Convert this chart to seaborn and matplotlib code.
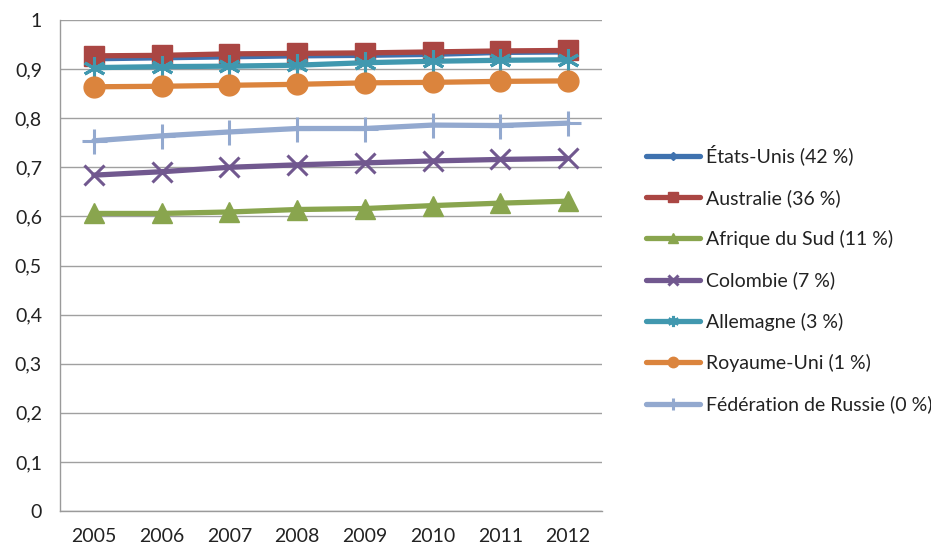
import matplotlib
matplotlib.use("Agg")
import matplotlib.pyplot as plt
import seaborn as sns
import pandas as pd
from matplotlib.ticker import FixedLocator, FuncFormatter

years = [2005, 2006, 2007, 2008, 2009, 2010, 2011, 2012]
series_names = ["États-Unis (42 %)", "Australie (36 %)", "Afrique du Sud (11 %)",
                "Colombie (7 %)", "Allemagne (3 %)", "Royaume-Uni (1 %)",
                "Fédération de Russie (0 %)"]
etats_unis = [0.921, 0.923, 0.925, 0.927, 0.928, 0.930, 0.934, 0.935]
australie = [0.927, 0.928, 0.931, 0.932, 0.933, 0.935, 0.937, 0.938]
afrique_sud = [0.606, 0.606, 0.609, 0.614, 0.616, 0.622, 0.627, 0.631]
colombie = [0.684, 0.691, 0.700, 0.705, 0.709, 0.713, 0.716, 0.718]
allemagne = [0.903, 0.905, 0.906, 0.908, 0.913, 0.916, 0.918, 0.919]
royaume_uni = [0.864, 0.865, 0.867, 0.869, 0.872, 0.873, 0.875, 0.876]
russie = [0.754, 0.764, 0.772, 0.779, 0.779, 0.786, 0.785, 0.790]
y_ticks = [0, 0.1, 0.2, 0.3, 0.4, 0.5, 0.6, 0.7, 0.8, 0.9, 1.0]

values = [etats_unis, australie, afrique_sud, colombie, allemagne, royaume_uni, russie]
colors = ["#3F72AF", "#AA4643", "#89A54E", "#71588F", "#4198AF", "#DB843D", "#93A9CF"]
markers = ["D", "s", "^", "x", "*", "o", "+"]
msizes = [9, 14, 15, 14, 16, 15, 18]
mews = [1, 1, 1, 2.2, 2.2, 1, 2.2]

sns.set_style("white")
plt.rcParams["font.family"] = ["Lato", "DejaVu Sans"]

fig = plt.figure(figsize=(9.31, 5.46), dpi=100)
ax = fig.add_axes([60 / 931, (546 - 511) / 546, (602 - 60) / 931, (511 - 20) / 546])

for name, vals, c, m, ms, mew in zip(series_names, values, colors, markers, msizes, mews):
    df = pd.DataFrame({"year": years, "value": vals})
    if m == "*":
        m = (6, 2, 0)
    sns.lineplot(data=df, x="year", y="value", ax=ax, color=c, linewidth=3.8,
                 marker=m, markersize=ms, markeredgewidth=mew, markeredgecolor=c,
                 markerfacecolor=c, label=name)

ax.set_xlim(years[0] - 0.5, years[-1] + 0.5)
ax.set_ylim(0, 1)
ax.set_xlabel("")
ax.set_ylabel("")
ax.set_xticks(years)
ax.set_xticklabels([str(y) for y in years])
ax.xaxis.set_minor_locator(FixedLocator([y - 0.5 for y in years] + [years[-1] + 0.5]))
ax.tick_params(axis="x", which="major", length=0, pad=12, labelsize=14, colors="#222222")
ax.tick_params(axis="x", which="minor", length=6, width=1, color="#9a9a9a")
ax.set_yticks(y_ticks)
ax.yaxis.set_major_formatter(FuncFormatter(lambda v, p: ("%g" % round(v, 1)).replace(".", ",")))
ax.tick_params(axis="y", length=7, width=1, color="#9a9a9a", pad=6, labelsize=14, labelcolor="#222222")
ax.grid(axis="y", color="#a0a0a0", linewidth=1)
ax.set_axisbelow(True)
for s in ["top", "right"]:
    ax.spines[s].set_visible(False)
for s in ["left", "bottom"]:
    ax.spines[s].set_color("#9a9a9a")
    ax.spines[s].set_linewidth(1)

ax.legend_.remove()
handles, labels = ax.get_legend_handles_labels()
leg = fig.legend(handles, labels, loc="upper left", bbox_to_anchor=(638 / 931, 1 - 137 / 546),
                 frameon=False, fontsize=14, markerscale=0.5, handlelength=2.8,
                 handletextpad=0.3, labelspacing=1.2, borderaxespad=0)
for t in leg.get_texts():
    t.set_color("#222222")

fig.savefig("out.png", dpi=100)
